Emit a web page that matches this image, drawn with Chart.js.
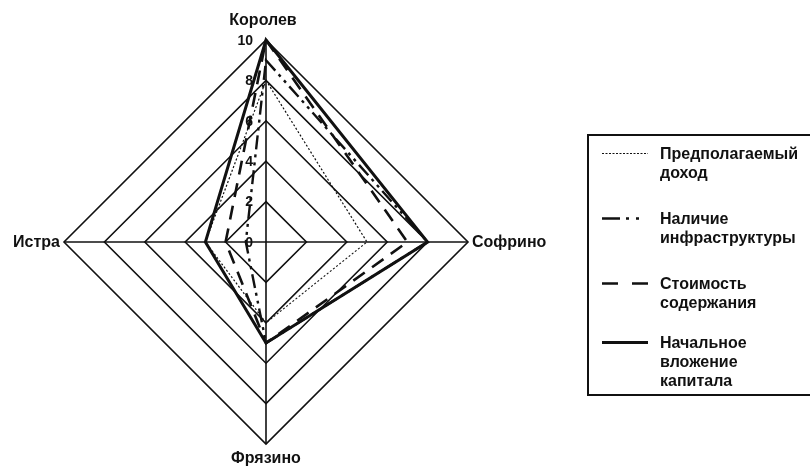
<!DOCTYPE html>
<html>
<head>
<meta charset="utf-8">
<script src="https://cdn.jsdelivr.net/npm/chart.js@4/dist/chart.umd.min.js"></script>
<style>
  html, body { margin: 0; padding: 0; background: #fff; overflow: hidden; }
  #wrap { position: relative; width: 810px; height: 466px; font-family: "Liberation Sans", Arial, sans-serif; }
  #chart { position: absolute; left: 0; top: 0; }
  #legend {
    position: absolute; left: 587px; top: 134px; width: 240px; height: 262px;
    border: 2px solid #111; border-right: none; box-sizing: border-box;
  }
  .item { position: absolute; left: 0; }
  .item svg { position: absolute; left: 13px; }
  .item .txt { position: absolute; left: 71px; font-weight: bold; font-size: 16px; line-height: 19px; color: #111; white-space: nowrap; }
</style>
</head>
<body>
<div id="wrap">
  <canvas id="chart" width="810" height="466"></canvas>
  <div id="legend"></div>
</div>
<script>
// categories (clockwise from top)
const categories = ["Королев", "Софрино", "Фрязино", "Истра"];
const tickValues = [0, 2, 4, 6, 8, 10];

// series
const seriesNames = [
  ["Предполагаемый", "доход"],
  ["Наличие", "инфраструктуры"],
  ["Стоимость", "содержания"],
  ["Начальное", "вложение", "капитала"],
];
const incomeValues = [8, 5, 4, 3];
const infraValues = [9, 8, 5, 1];
const upkeepValues = [10, 7, 5, 2];
const capitalValues = [10, 8, 5, 3];

// line styles for each series
const lineWidths = [1.2, 2.4, 2.6, 3];
const lineDashes = [[2, 2], [14, 5, 3, 5, 3, 5], [14, 9], []];
const legendDashes = [[2, 1.5], [18, 6, 3, 7, 3, 10], [16, 14], []];
const legendCenters = [153, 218, 283, 342]; // y of first text line, page coords

const ink = "#111";
const labelFont = "bold 16px 'Liberation Sans', Arial, sans-serif";
const tickFont = "bold 14px 'Liberation Sans', Arial, sans-serif";

// per label: extra distance past the outer ring, alignment
const pointLabelStyle = [
  { pad: 16, align: "center", baseline: "alphabetic", dx: -3 },
  { pad: 4, align: "left", baseline: "middle", dx: 0 },
  { pad: 18, align: "center", baseline: "alphabetic", dx: 0 },
  { pad: 4, align: "right", baseline: "middle", dx: 0 },
];

const radarLabels = {
  id: "radarLabels",
  beforeDatasetsDraw(chart) {
    // tick labels left of the vertical axis
    const scale = chart.scales.r;
    const ctx = chart.ctx;
    ctx.save();
    ctx.font = tickFont;
    ctx.fillStyle = ink;
    ctx.textAlign = "right";
    ctx.textBaseline = "middle";
    tickValues.forEach((v) => {
      const d = scale.getDistanceFromCenterForValue(v);
      ctx.fillText(String(v), scale.xCenter - 13, scale.yCenter - d + 1);
    });
    ctx.restore();
  },
  afterDraw(chart) {
    const scale = chart.scales.r;
    const ctx = chart.ctx;
    ctx.save();
    ctx.font = labelFont;
    ctx.fillStyle = ink;
    categories.forEach((name, i) => {
      const st = pointLabelStyle[i];
      const p = scale.getPointPosition(i, scale.drawingArea + st.pad);
      ctx.textAlign = st.align;
      ctx.textBaseline = st.baseline;
      ctx.fillText(name, p.x + st.dx, p.y + 1);
    });
    ctx.restore();
  },
};

const seriesValues = [incomeValues, infraValues, upkeepValues, capitalValues];

const datasets = seriesValues.map((vals, i) => ({
  label: seriesNames[i].join(" "),
  data: vals,
  borderColor: ink,
  borderWidth: lineWidths[i],
  borderDash: lineDashes[i],
  backgroundColor: "transparent",
  fill: false,
  pointRadius: 0,
  tension: 0,
}));

const ctx = document.getElementById("chart").getContext("2d");
const myChart = new Chart(ctx, {
  type: "radar",
  data: { labels: categories, datasets: datasets },
  options: {
    responsive: false,
    animation: false,
    layout: { padding: { left: 64, right: 342, top: 40, bottom: 22 } },
    plugins: { legend: { display: false }, tooltip: { enabled: false } },
    scales: {
      r: {
        min: 0,
        max: 10,
        ticks: { display: false, stepSize: 2 },
        grid: { color: ink, lineWidth: 1.6 },
        angleLines: { color: ink, lineWidth: 1.6 },
        pointLabels: { display: false },
      },
    },
  },
  plugins: [radarLabels],
});

// legend built from the same series
const legend = document.getElementById("legend");
const legendTop = 136; // inner top of the legend box
seriesNames.forEach((lines, i) => {
  const item = document.createElement("div");
  item.className = "item";
  item.style.top = legendCenters[i] - legendTop - 9.5 + "px";

  const svg = document.createElementNS("http://www.w3.org/2000/svg", "svg");
  svg.setAttribute("width", "48");
  svg.setAttribute("height", "19");
  const line = document.createElementNS("http://www.w3.org/2000/svg", "line");
  line.setAttribute("x1", "0");
  line.setAttribute("x2", "46");
  line.setAttribute("y1", "9.5");
  line.setAttribute("y2", "9.5");
  line.setAttribute("stroke", ink);
  line.setAttribute("stroke-width", lineWidths[i]);
  if (legendDashes[i].length) line.setAttribute("stroke-dasharray", legendDashes[i].join(" "));
  svg.appendChild(line);
  item.appendChild(svg);

  const txt = document.createElement("div");
  txt.className = "txt";
  txt.innerHTML = lines.join("<br>");
  item.appendChild(txt);
  legend.appendChild(item);
});
</script>
</body>
</html>
